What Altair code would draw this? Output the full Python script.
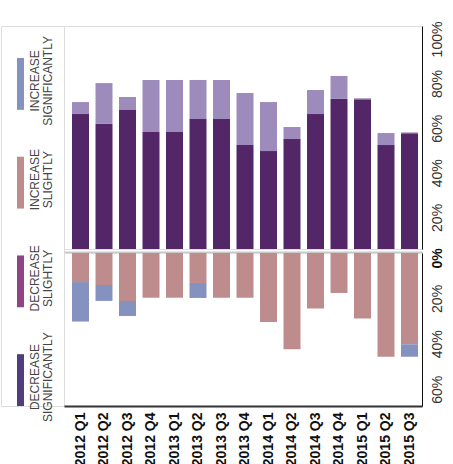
import altair as alt
import pandas as pd

quarters = ["2012 Q1", "2012 Q2", "2012 Q3", "2012 Q4",
            "2013 Q1", "2013 Q2", "2013 Q3", "2013 Q4",
            "2014 Q1", "2014 Q2", "2014 Q3", "2014 Q4",
            "2015 Q1", "2015 Q2", "2015 Q3"]

# upper half (percent)
top_dark = [60.5, 56.1, 62.3, 52.5, 52.5, 58.3, 58.3, 46.6, 43.9, 49.3, 60.5, 67.3, 67.1, 46.6, 51.9]
top_light = [5.4, 18.3, 5.9, 23.3, 23.3, 17.5, 17.5, 23.4, 22.0, 5.4, 10.8, 10.3, 0.5, 5.4, 0.4]

# lower half (percent, drawn downward)
bottom_pink = [12.8, 14.1, 21.1, 19.7, 19.7, 13.2, 19.7, 19.7, 30.4, 42.4, 24.5, 17.6, 28.9, 45.7, 40.2]
bottom_blue = [17.4, 7.0, 6.6, 0, 0, 6.6, 0, 0, 0, 0, 0, 0, 0, 0, 5.5]

top_ticks = [20, 40, 60, 80, 100]
bottom_ticks = [0, 20, 40, 60]

legend_labels = ["INCREASE\nSIGNIFICANTLY", "INCREASE\nSLIGHTLY",
                 "DECREASE\nSLIGHTLY", "DECREASE\nSIGNIFICANTLY"]
legend_colors = ["#8592bf", "#bf8c8e", "#8e4585", "#4f3d7e"]

FONT = "Liberation Sans"

# ---- build tables
top_rows = []
for q, d, l in zip(quarters, top_dark, top_light):
    top_rows.append({"quarter": q, "series": "dark", "start": 0, "end": d})
    top_rows.append({"quarter": q, "series": "light", "start": d, "end": d + l})
top_df = pd.DataFrame(top_rows)

bot_rows = []
for q, p, b in zip(quarters, bottom_pink, bottom_blue):
    bot_rows.append({"quarter": q, "series": "pink", "start": 0, "end": p})
    bot_rows.append({"quarter": q, "series": "blue", "start": p, "end": p + b})
bot_df = pd.DataFrame(bot_rows)

leg_df = pd.DataFrame({"label": legend_labels})

x_scale = alt.Scale(paddingInner=0.277, paddingOuter=0.2555, align=0.667)

top = alt.Chart(top_df).mark_bar().encode(
    x=alt.X("quarter:N", sort=quarters, scale=x_scale,
            axis=alt.Axis(labels=False, ticks=False, title=None,
                          domainColor="#c9c9c9", domainWidth=2, offset=3)),
    y=alt.Y("start:Q", scale=alt.Scale(domain=[0, 100], nice=False),
            axis=alt.Axis(orient="right", values=top_ticks,
                          labelExpr="datum.value + '%'", labelAngle=270,
                          labelAlign="center", labelBaseline="top",
                          labelOffset=13, labelPadding=8, ticks=False,
                          grid=False, title=None, domainColor="#111",
                          labelFont=FONT, labelFontSize=14, labelColor="#333",
                          labelOverlap=False)),
    y2="end:Q",
    color=alt.Color("series:N",
                    scale=alt.Scale(domain=["dark", "light"], range=["#522667", "#9d8cbb"]),
                    legend=None),
).properties(width=358, height=223)

bottom = alt.Chart(bot_df).mark_bar().encode(
    x=alt.X("quarter:N", sort=quarters, scale=x_scale,
            axis=alt.Axis(title=None, ticks=False, labelAngle=270,
                          labelAlign="right", labelBaseline="middle",
                          labelFontWeight="bold", labelFontSize=14,
                          labelFont=FONT, labelPadding=6, labelColor="#111",
                          domainColor="#333", domainWidth=2,
                          labelOverlap=False)),
    y=alt.Y("start:Q", scale=alt.Scale(domain=[0, 67.4], nice=False, reverse=True),
            axis=alt.Axis(orient="right", values=bottom_ticks,
                          labelExpr="datum.value + '%'", labelAngle=270,
                          labelAlign="center", labelBaseline="top",
                          labelOffset={"condition": {"test": "datum.value == 0", "value": 5}, "value": 0},
                          labelFontWeight={"condition": {"test": "datum.value == 0", "value": "bold"}, "value": "normal"},
                          labelColor={"condition": {"test": "datum.value == 0", "value": "#111"}, "value": "#333"},
                          labelPadding=8, ticks=False, grid=False, title=None,
                          domainColor="#111", labelFont=FONT, labelFontSize=14,
                          labelOverlap=False)),
    y2="end:Q",
    color=alt.Color("series:N",
                    scale=alt.Scale(domain=["pink", "blue"], range=["#bf8c8e", "#8592bf"]),
                    legend=None),
).properties(width=358, height=153)

leg_y = alt.Y("label:N", sort=legend_labels,
              scale=alt.Scale(range=[32, 380], paddingInner=0.475, paddingOuter=0),
              axis=None)

swatches = alt.Chart(leg_df).mark_rect().encode(
    x=alt.value(16), x2=alt.value(23), y=leg_y,
    color=alt.Color("label:N", scale=alt.Scale(domain=legend_labels, range=legend_colors),
                    legend=None),
)
texts = alt.Chart(leg_df).mark_text(
    angle=270, align="center", baseline="middle", lineBreak="\n",
    font=FONT, fontSize=12, lineHeight=13, color="#444", dx=3
).encode(x=alt.value(34), y=leg_y, text="label:N")

legend = alt.layer(swatches, texts).properties(width=63, height=380)

right = alt.vconcat(top, bottom, spacing=4, bounds="flush").resolve_scale(
    y="independent", color="independent")

chart = alt.hconcat(legend, right, spacing=0, bounds="flush").resolve_scale(
    y="independent", color="independent"
).properties(
    padding={"left": 0, "top": 20, "right": 5, "bottom": 0}
).configure_view(strokeWidth=0).configure(font=FONT)

chart.save("out.html", embed_options={"renderer": "svg", "actions": False})
